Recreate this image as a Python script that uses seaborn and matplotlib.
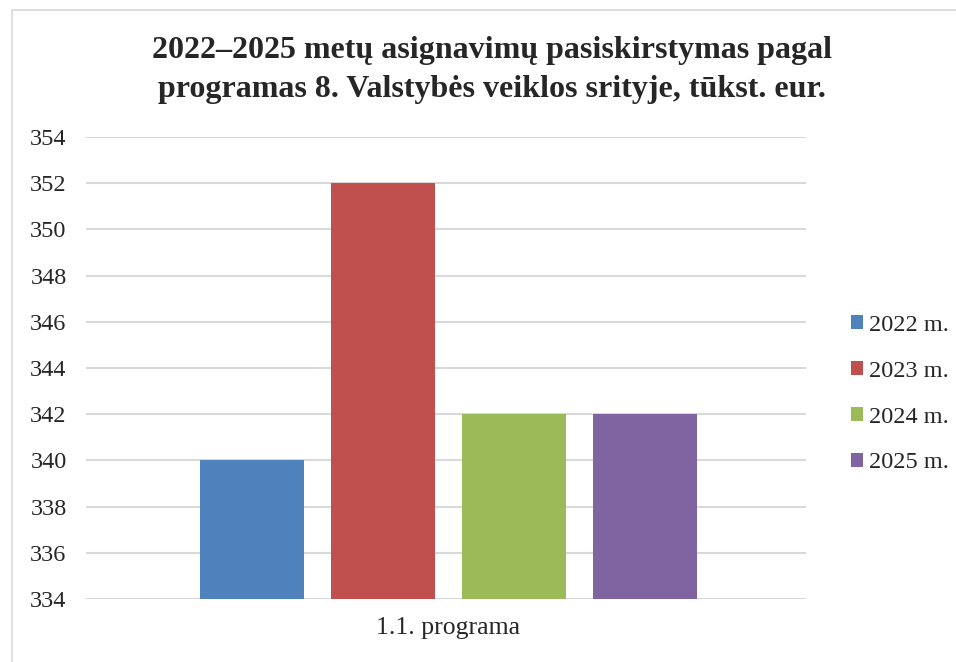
import pandas as pd
import seaborn as sns
import matplotlib.pyplot as plt
from matplotlib.patches import Rectangle

# duomenys
programs = ["1.1. programa"] * 4
years = ["2022 m.", "2023 m.", "2024 m.", "2025 m."]
values = [340, 352, 342, 342]
colors = ["#4F81BD", "#C0504D", "#9BBB59", "#8064A2"]

df = pd.DataFrame({"programa": programs, "metai": years, "suma": values})

sns.set_style("white")
plt.rcParams['font.family'] = ['Liberation Serif', 'DejaVu Serif']

fig = plt.figure(figsize=(9.56, 6.62), dpi=100)
ax = fig.add_axes([0.090, 0.095, 0.753, 0.698])

sns.barplot(data=df, x="programa", y="suma", hue="metai", palette=colors,
            width=0.728, gap=0.206, saturation=1, linewidth=0, ax=ax)

ax.set_xlim(-0.503, 0.497)
ax.set_ylim(334, 354)
ax.set_yticks(range(334, 355, 2))
ax.yaxis.grid(True, color="#D9D9D9", linewidth=1.5)
ax.set_axisbelow(True)
for s in ax.spines.values():
    s.set_visible(False)
ax.tick_params(axis="y", length=0, pad=14, labelsize=17.5)
ax.tick_params(axis="x", length=0, pad=13, labelsize=18.5)
ax.set_xlabel("")
ax.set_ylabel("")

ax.legend(loc="center left", bbox_to_anchor=(0.890, 0.4045),
          bbox_transform=fig.transFigure, frameon=False, fontsize=17.5,
          borderaxespad=0, borderpad=0,
          handlelength=0.5, handleheight=0.5, handletextpad=0.25,
          labelspacing=1.02)

fig.text(0.515, 0.894, "2022–2025 metų asignavimų pasiskirstymas pagal\n"
         "programas 8. Valstybės veiklos srityje, tūkst. eur.",
         ha="center", va="center", fontsize=23, fontweight="bold",
         linespacing=1.45)

# rėmelis
fig.patches.append(Rectangle((12 / 956, -0.01), 1.0, 1 - 10 / 662 + 0.01,
                             transform=fig.transFigure, fill=False,
                             edgecolor="#D9D9D9", linewidth=1.2))

fig.savefig("out.png", dpi=100)
